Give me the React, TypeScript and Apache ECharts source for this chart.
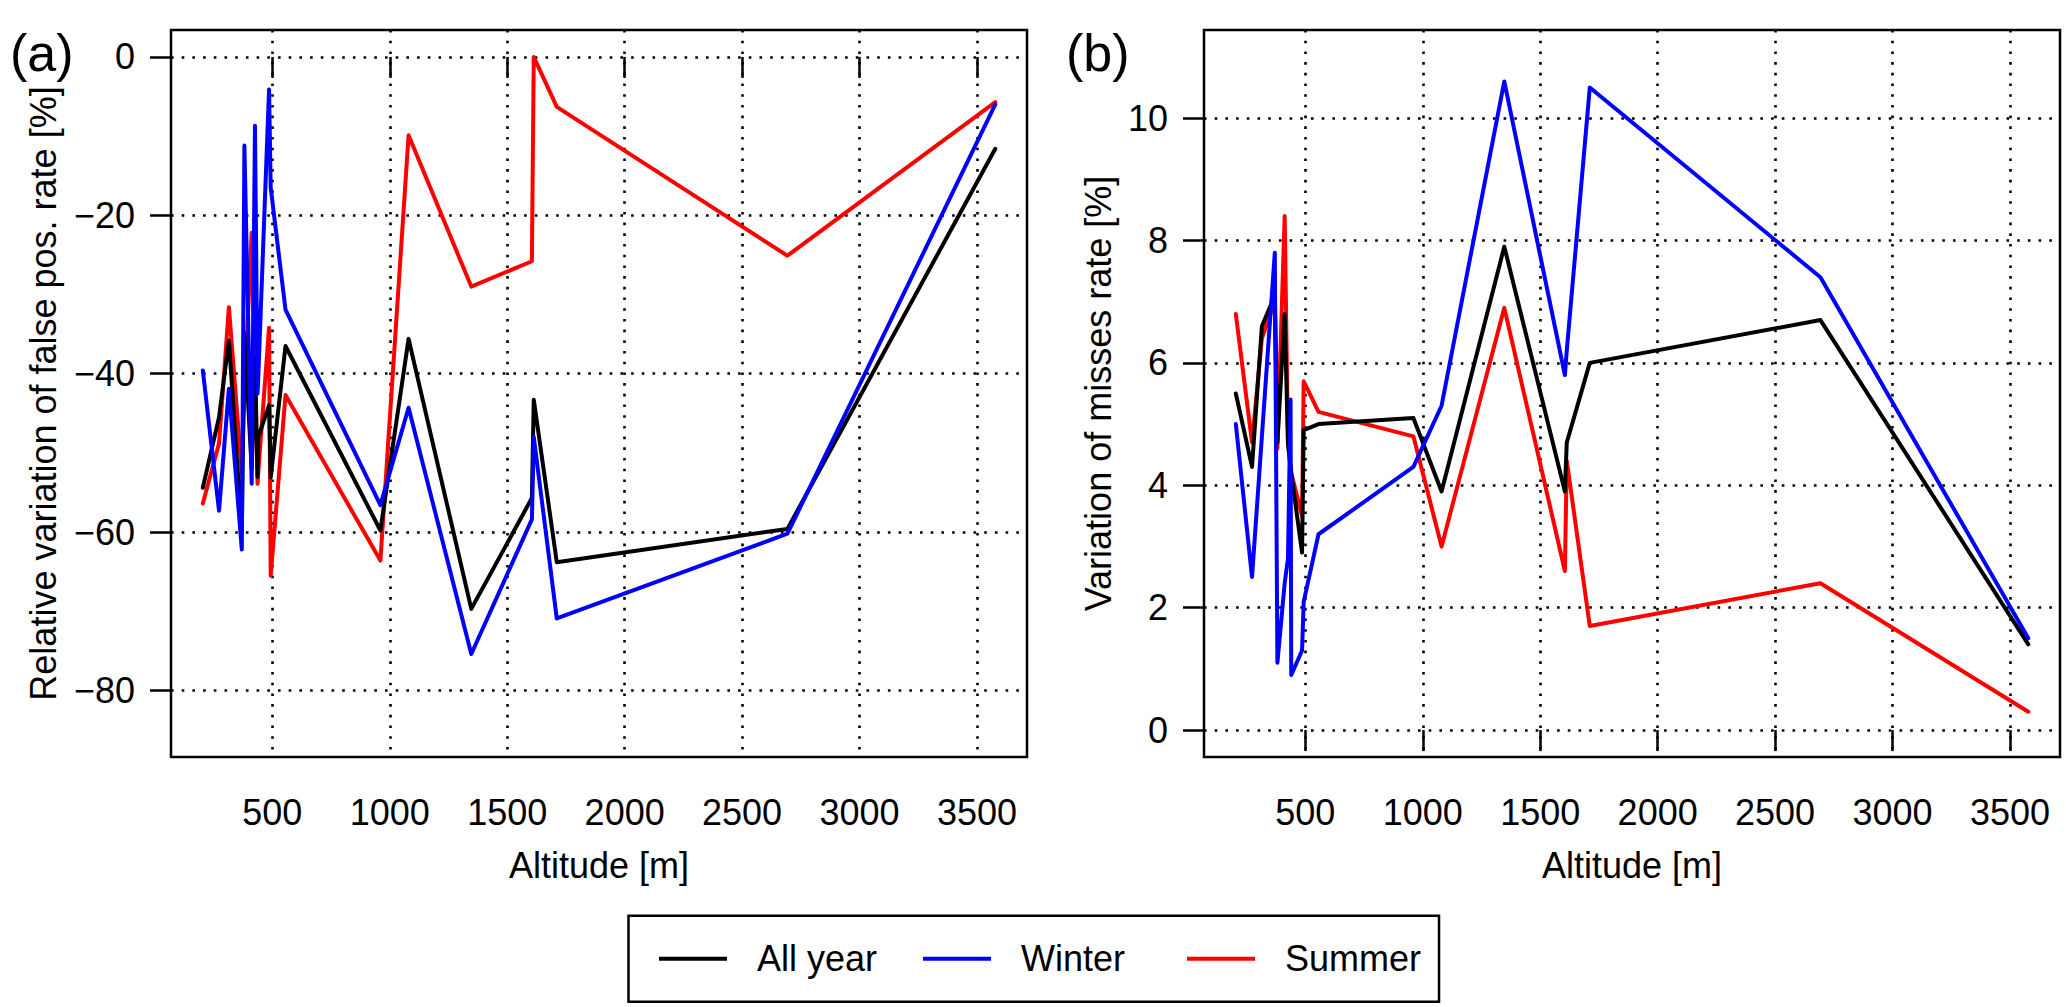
import { useEffect, useRef } from 'react';
import * as echarts from 'echarts';

// station altitudes [m], sorted
const altitudes = [204, 273, 315, 370, 381, 412, 426, 437, 440, 486, 493, 556, 960, 1080, 1347, 1605, 1613, 1711, 2693, 3578];

// (a) relative variation of false pos. rate [%]
const fpAllYear = [-54.4, -45.5, -35.8, -60, -35, -52, -38, -53, -48, -44, -53.1, -36.5, -59.8, -35.6, -69.7, -55.7, -43.3, -63.8, -59.6, -11.6];
const fpWinter = [-39.6, -57.3, -41.9, -62.2, -11.2, -53.9, -8.7, -42.5, -40.5, -4.1, -16.5, -31.9, -56.6, -44.3, -75.4, -58.4, -48, -70.9, -60.2, -6.0];
const fpSummer = [-56.4, -48.8, -31.6, -52.6, -42.3, -22.2, -41, -53.9, -52.5, -34.2, -65.5, -42.7, -63.6, -9.9, -29, -25.8, 0, -6.3, -25.1, -5.7];

// (b) variation of misses rate [%]
const missAllYear = [5.5, 4.3, 6.6, 7.1, 4.7, 6.8, 4.7, 4.3, 4.2, 2.9, 4.9, 5.0, 5.1, 3.9, 7.9, 3.9, 4.7, 6.0, 6.7, 1.4];
const missWinter = [5.0, 2.5, 4.8, 7.8, 1.1, 2.4, 2.8, 5.4, 0.9, 1.3, 2.1, 3.2, 4.3, 5.3, 10.6, 5.8, 6.2, 10.5, 7.4, 1.5];
const missSummer = [6.8, 4.7, 6.4, 7.0, 4.6, 8.4, 4.7, 4.3, 4.2, 3.5, 5.7, 5.2, 4.8, 3.0, 6.9, 2.6, 4.4, 1.7, 2.4, 0.3];

const altitudeTicks = [500, 1000, 1500, 2000, 2500, 3000, 3500];
const fpTicks = [-80, -60, -40, -20, 0];
const missTicks = [0, 2, 4, 6, 8, 10];

const seriesNames = ['All year', 'Winter', 'Summer'];
const seriesColors: Record<string, string> = { 'All year': '#000000', Winter: '#0000ff', Summer: '#ff0000' };

const FONT = '"Liberation Sans", Arial, Helvetica, sans-serif';

// R style axis range: limits widened by 4%
const widen = (lo: number, hi: number) => {
  const d = (hi - lo) * 0.04;
  return [lo - d, hi + d];
};

const numFmt = (v: number) => (v < 0 ? '\u2212' + Math.abs(v) : String(v));

const App = () => {
  const chartRef = useRef<HTMLDivElement>(null);

  useEffect(() => {
    if (!chartRef.current) return;
    const chart = echarts.init(chartRef.current, null, { renderer: 'svg' });

    const [xMin, xMax] = widen(203.5, 3578);
    const [fpMin, fpMax] = widen(-85, 0);
    const [missMin, missMax] = widen(0, 11);

    const dots = { color: '#000', width: 2.6, type: [2.6, 8.1] as number[] };
    const tick = { color: '#000', width: 2.5 };
    const labelStyle = { fontSize: 36, color: '#000', fontFamily: FONT };

    const xAxis = (gridIndex: number) => ({
      type: 'value',
      gridIndex,
      min: xMin,
      max: xMax,
      name: 'Altitude [m]',
      nameLocation: 'middle',
      nameGap: 90,
      nameTextStyle: labelStyle,
      axisLine: { show: false },
      axisTick: { show: true, customValues: altitudeTicks, length: 21, lineStyle: tick },
      axisLabel: { customValues: altitudeTicks, margin: 37, formatter: numFmt, ...labelStyle },
      splitLine: { show: true, lineStyle: dots },
    });

    const yAxis = (gridIndex: number, min: number, max: number, ticks: number[], name: string, nameGap: number) => ({
      type: 'value',
      gridIndex,
      min,
      max,
      name,
      nameLocation: 'middle',
      nameGap,
      nameTextStyle: labelStyle,
      axisLine: { show: false },
      axisTick: { show: true, customValues: ticks, length: 21, lineStyle: tick },
      axisLabel: { customValues: ticks, margin: 36, formatter: numFmt, ...labelStyle },
      splitLine: { show: true, lineStyle: dots },
    });

    const pairs = (vals: number[]) => altitudes.map((a, i) => [a, vals[i]]);

    const panelData = [
      { 'All year': fpAllYear, Winter: fpWinter, Summer: fpSummer },
      { 'All year': missAllYear, Winter: missWinter, Summer: missSummer },
    ] as Record<string, number[]>[];

    // drawing order: Summer underneath, Winter on top
    const drawOrder = ['Summer', 'All year', 'Winter'];
    const series: any[] = [];
    panelData.forEach((panel, p) => {
      drawOrder.forEach((name) => {
        series.push({
          name,
          type: 'line',
          xAxisIndex: p,
          yAxisIndex: p,
          data: pairs(panel[name]),
          symbol: 'none',
          silent: true,
          itemStyle: { color: seriesColors[name] },
          lineStyle: { color: seriesColors[name], width: 4, cap: 'round', join: 'round' },
        });
      });
    });

    const option = {
      animation: false,
      grid: [
        { left: 171, top: 30, width: 856, height: 727, show: true, borderColor: '#000', borderWidth: 2.5, containLabel: false },
        { left: 1204, top: 30, width: 856, height: 727, show: true, borderColor: '#000', borderWidth: 2.5, containLabel: false },
      ],
      xAxis: [xAxis(0), xAxis(1)],
      yAxis: [
        yAxis(0, fpMin, fpMax, fpTicks, 'Relative variation of false pos. rate [%]', 110),
        yAxis(1, missMin, missMax, missTicks, 'Variation of misses rate [%]', 88),
      ],
      legend: {
        data: seriesNames,
        left: 628.5,
        top: 915.7,
        orient: 'horizontal',
        selectedMode: false,
        icon: 'rect',
        itemWidth: 68,
        itemHeight: 4,
        itemGap: 32,
        padding: [23, 18, 23, 30.5],
        borderColor: '#000',
        borderWidth: 2.5,
        borderRadius: 0,
        textStyle: { ...labelStyle, width: 134, padding: [0, 0, 0, 25], lineHeight: 40 },
      },
      graphic: [
        { type: 'text', left: 10, top: 27, style: { text: '(a)', fontSize: 52, fontFamily: FONT, fill: '#000' } },
        { type: 'text', left: 1066, top: 27, style: { text: '(b)', fontSize: 52, fontFamily: FONT, fill: '#000' } },
      ],
      series,
    };

    chart.setOption(option);

    const handleResize = () => chart.resize();
    window.addEventListener('resize', handleResize);
    return () => {
      window.removeEventListener('resize', handleResize);
      chart.dispose();
    };
  }, []);

  return <div ref={chartRef} style={{ position: 'fixed', left: 0, top: 0, width: '100vw', height: '100vh', background: '#fff' }} />;
};

export default App;
